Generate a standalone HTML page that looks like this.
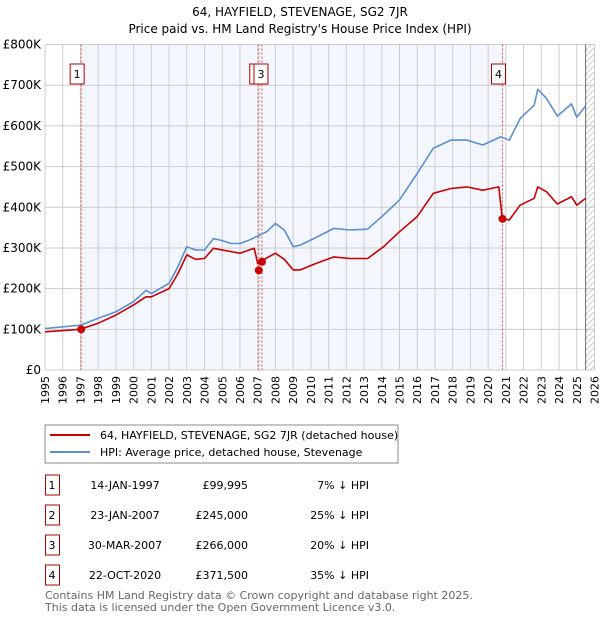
<!DOCTYPE html>
<html><head><meta charset="utf-8"><style>
body{margin:0;background:#fff;font-family:"DejaVu Sans","Liberation Sans",sans-serif;}
svg text{font-family:"DejaVu Sans","Liberation Sans",sans-serif;}
</style></head><body>
<svg id="chart" width="600" height="620" xmlns="http://www.w3.org/2000/svg">
<defs><pattern id="hatch" width="6" height="6" patternUnits="userSpaceOnUse"><path d="M0,6 L6,0" stroke="#ccc" stroke-width="1"/></pattern></defs>
<text x="300" y="16" text-anchor="middle" font-size="12">64, HAYFIELD, STEVENAGE, SG2 7JR</text>
<text x="300" y="33" text-anchor="middle" font-size="12">Price paid vs. HM Land Registry's House Price Index (HPI)</text>
<g id="plot"></g>
<g>
<rect x="45" y="425" width="353" height="38" fill="#fff" stroke="#888"/>
<line x1="50" y1="435" x2="90" y2="435" stroke="#cc0000" stroke-width="2"/>
<text x="100" y="439" font-size="11">64, HAYFIELD, STEVENAGE, SG2 7JR (detached house)</text>
<line x1="50" y1="452" x2="90" y2="452" stroke="#5b8fd0" stroke-width="2"/>
<text x="100" y="456" font-size="11">HPI: Average price, detached house, Stevenage</text>
</g>
<g id="table" font-size="11"></g>
<text x="45" y="599" font-size="11" fill="#666">Contains HM Land Registry data © Crown copyright and database right 2025.</text>
<text x="45" y="611" font-size="11" fill="#666">This data is licensed under the Open Government Licence v3.0.</text>
</svg>
<script>
const hpiYears=[1995,1997,1998,1999,2000,2000.7,2001,2002,2002.5,2003,2003.5,2004,2004.5,2005,2005.5,2006,2006.5,2007,2007.5,2008,2008.5,2009,2009.4,2010.3,2011.3,2012.2,2013.2,2014.1,2015,2016,2016.9,2017.9,2018.8,2019.7,2020.7,2021.2,2021.8,2022.6,2022.8,2023.3,2023.9,2024.7,2025,2025.5];
const hpiValues=[102,110,127,143,168,196,188,213,254,303,295,295,323,318,311,311,319,329,340,360,344,303,307,326,348,344,346,381,418,483,545,565,565,553,573,565,618,651,690,667,624,654,621,649];
const propYears=[1995,1997,1998,1999,2000,2000.7,2001,2002,2002.5,2003,2003.5,2004,2004.5,2005.5,2006,2006.8,2007.0,2007.3,2008,2008.5,2009,2009.4,2010.3,2011.3,2012.2,2013.2,2014.1,2015,2016,2016.9,2017.9,2018.8,2019.7,2020.6,2020.8,2021.2,2021.8,2022.6,2022.8,2023.3,2023.9,2024.7,2025,2025.5];
const propValues=[94,100,115,135,160,180,180,200,237,283,272,274,299,291,287,299,262,270,287,272,246,246,262,278,274,274,303,340,377,434,446,450,442,450,371.5,369,405,422,450,438,408,426,405,422];
const saleLabels=["1","2","3","4"];
const saleYears=[1997.04,2007.06,2007.24,2020.81];
const saleValues=[99.995,245,266,371.5];
const saleDates=["14-JAN-1997","23-JAN-2007","30-MAR-2007","22-OCT-2020"];
const salePrices=["£99,995","£245,000","£266,000","£371,500"];
const saleDiffs=["7% ↓ HPI","25% ↓ HPI","20% ↓ HPI","35% ↓ HPI"];
const yTicks=[0,100,200,300,400,500,600,700,800];
const yTickLabels=["£0","£100K","£200K","£300K","£400K","£500K","£600K","£700K","£800K"];
const xTicks=[1995,1996,1997,1998,1999,2000,2001,2002,2003,2004,2005,2006,2007,2008,2009,2010,2011,2012,2013,2014,2015,2016,2017,2018,2019,2020,2021,2022,2023,2024,2025,2026];

const NS="http://www.w3.org/2000/svg";
const X0=45,X1=594.5,Y0=370,Y1=44.5;
const xs=y=>X0+(y-1995)/(2026-1995)*(X1-X0);
const ys=v=>Y0-v/800*(Y0-Y1);
const plot=document.getElementById('plot');
function mk(tag,attrs,parent){const e=document.createElementNS(NS,tag);for(const k in attrs)e.setAttribute(k,attrs[k]);(parent||plot).appendChild(e);return e;}

let e=mk('rect',{x:X0,y:Y1,width:X1-X0,height:Y0-Y1,fill:'#fff'});


e=mk('rect',{x:xs(saleYears[0]),y:Y1,width:xs(saleYears[3])-xs(saleYears[0]),height:Y0-Y1,fill:'#eef3fc',opacity:0.7});


e=mk('rect',{x:xs(2025.5),y:Y1,width:X1-xs(2025.5),height:Y0-Y1,fill:'url(#hatch)'});


xTicks.forEach(t=>{
  const g=mk('line',{x1:xs(t),x2:xs(t),y1:Y1,y2:Y0,stroke:'#ccc','stroke-width':1});
  
  
  const tx=mk('text',{x:0,y:0,'font-size':11,'text-anchor':'end',transform:`translate(${xs(t)+4},${Y0+6}) rotate(-90)`});
  tx.textContent=t;
  
  
});
yTicks.forEach((t,i)=>{
  const g=mk('line',{x1:X0,x2:X1,y1:ys(t),y2:ys(t),stroke:'#ccc','stroke-width':1});
  
  
  const tx=mk('text',{x:X0-4,y:ys(t)+4,'font-size':12,'text-anchor':'end'});
  tx.textContent=yTickLabels[i];
  
  
});
e=mk('line',{x1:xs(2025.5),x2:xs(2025.5),y1:Y1,y2:Y0,stroke:'#666','stroke-width':1});


saleYears.forEach((y,i)=>{
  const l=mk('line',{x1:xs(y),x2:xs(y),y1:Y1,y2:Y0,stroke:'#e05050','stroke-width':1,'stroke-dasharray':'2,2'});
  
  
});
function path(xa,va,color,name){
  const d=xa.map((x,i)=>(i?'L':'M')+xs(x).toFixed(1)+','+ys(va[i]).toFixed(1)).join(' ');
  const p=mk('path',{d:d,fill:'none',stroke:color,'stroke-width':1.6,'stroke-linejoin':'round'});
  
  
}
path(hpiYears,hpiValues,'#5b8fd0','hpi-line');
path(propYears,propValues,'#cc0000','property-line');
saleYears.forEach((y,i)=>{
  const c=mk('circle',{cx:xs(y),cy:ys(saleValues[i]),r:4,fill:'#cc0000'});
  
  
});
const boxXs=[xs(saleYears[0])-11,null,xs(saleYears[2])-7,xs(saleYears[3])-11];
saleYears.forEach((y,i)=>{
  let bx=xs(y)-11; if(i===1) bx=xs(y)-9; if(i===2) bx=xs(y)-8;
  const r=mk('rect',{x:bx,y:64,width:14,height:20,fill:'#fff',stroke:'#b00000'});
  
  
  if(i!==1){const t=mk('text',{x:bx+7,y:78,'font-size':11,'text-anchor':'middle'});t.textContent=saleLabels[i];
  
  }
});
const tb=document.getElementById('table');
saleLabels.forEach((l,i)=>{
  const y=475+i*30;
  const r=mk('rect',{x:45.5,y:y,width:14,height:20,fill:'#fff',stroke:'#b00000'},tb);
  
  
  const cells=[[52,l,'middle'],[125,saleDates[i],'middle'],[248,salePrices[i],'end'],[369,saleDiffs[i],'end']];
  cells.forEach(c=>{const t=mk('text',{x:c[0],y:y+14,'text-anchor':c[2]},tb);t.textContent=c[1];
  
  });
});
</script>
</body></html>
